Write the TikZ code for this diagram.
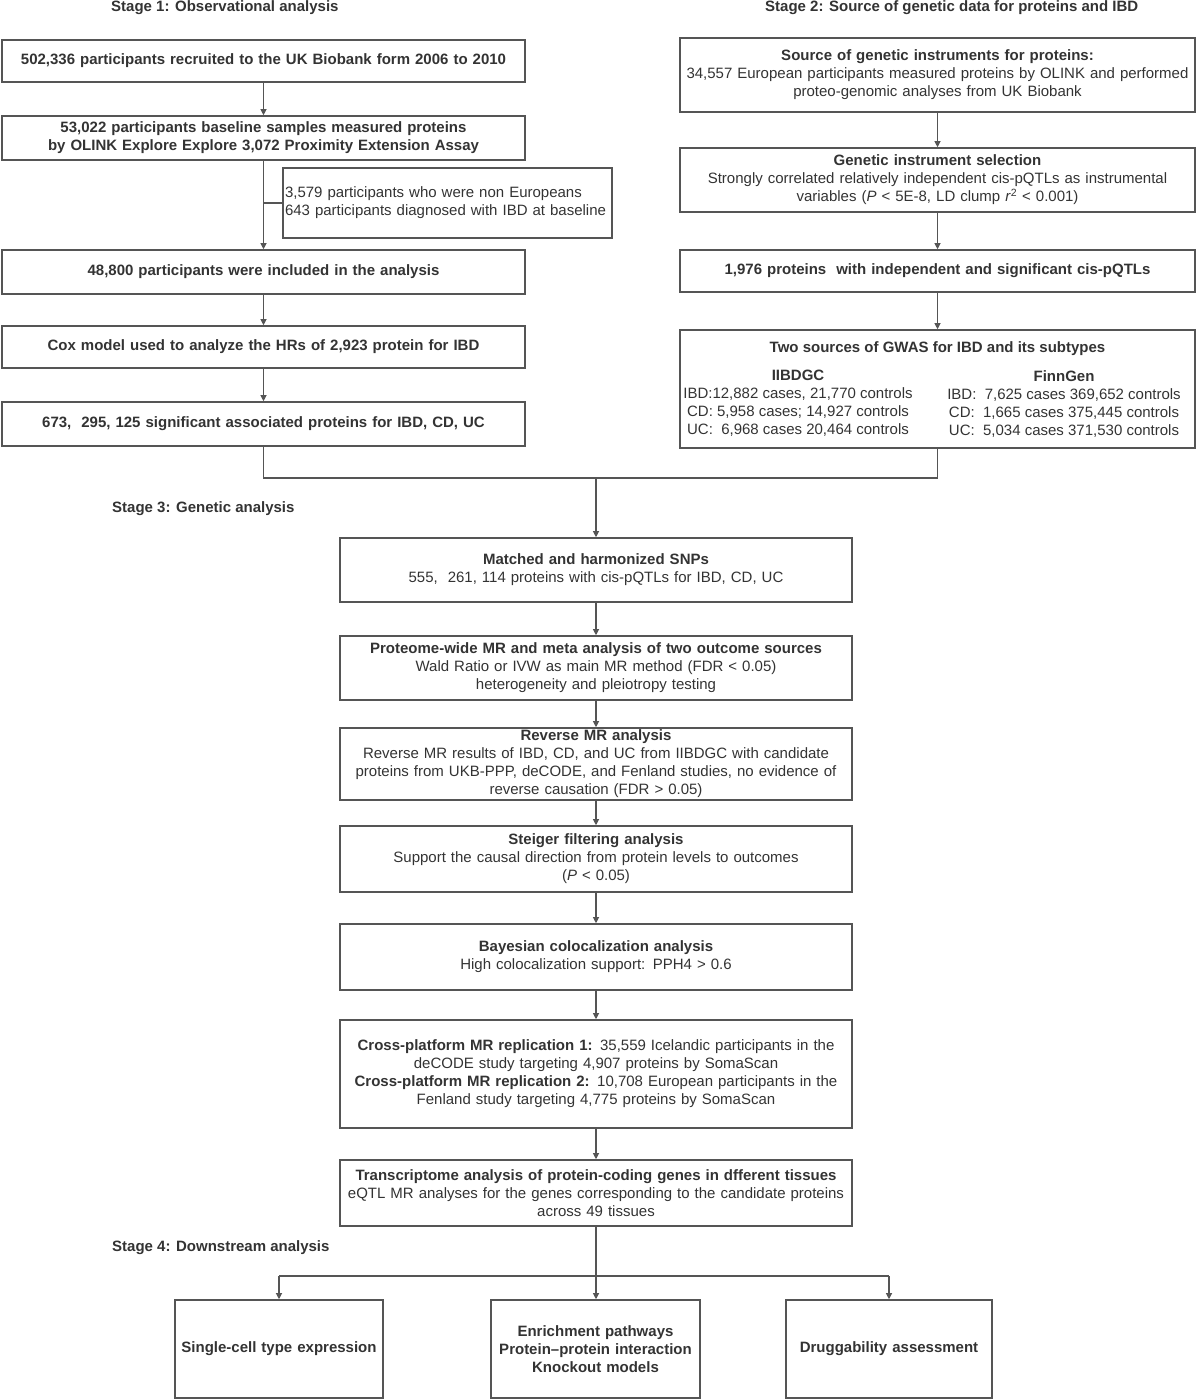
\documentclass[tikz,border=0pt]{standalone}
\usepackage{fontspec}
\setmainfont{Liberation Sans}
\usetikzlibrary{arrows.meta}
\definecolor{lc}{HTML}{555555}
\definecolor{tc}{HTML}{333333}
\tikzset{
  box/.style={draw=lc, line width=1.6pt, rectangle, inner sep=1pt, align=center, text=tc,
              font=\fontsize{15}{18}\selectfont},
  conn/.style={draw=lc, line width=1.1pt},
  arr/.style={conn, -{Triangle[length=6pt,width=6pt]}},
  stage/.style={font=\fontsize{15}{16}\selectfont\bfseries, text=tc, anchor=west, inner sep=0pt},
  plain/.style={font=\fontsize{15}{18}\selectfont, text=tc, align=center, inner sep=0pt},
}
\newcommand{\bx}[6]{% name, x1, y1, x2, y2, text
  \node[box, minimum width={#4-#2}, minimum height={#5-#3}, text width={#4-#2-4}] (#1) at ({(#2+#4)/2},{(#3+#5)/2}) {#6};}
\begin{document}
\begin{tikzpicture}[x=1pt,y=-1pt]
\useasboundingbox (0,0) rectangle (1200,1399);
% stage labels
\node[stage] (s1) at (111,8) {Stage 1: Observational analysis};
\node[stage] (s2) at (765,8) {Stage 2: Source of genetic data for proteins and IBD};
\node[stage] (s3) at (112,509) {Stage 3: Genetic analysis};
\node[stage] (s4) at (112,1248) {Stage 4: Downstream analysis};
% left column
\bx{b1}{2}{40}{525}{82}{\textbf{502,336 participants recruited to the UK Biobank form 2006 to 2010}}
\bx{b2}{2}{116}{525}{160}{\textbf{53,022 participants baseline samples measured proteins}\\\textbf{by OLINK Explore Explore 3,072 Proximity Extension Assay}}
\node[box, minimum width=329pt, minimum height=70pt, align=left, text width=325pt, inner sep=1pt] (ex) at (447.5,203) {3,579 participants who were non Europeans\\643 participants diagnosed with IBD at baseline};
\bx{b3}{2}{250}{525}{294}{\textbf{48,800 participants were included in the analysis}}
\bx{b4}{2}{326}{525}{368}{\textbf{Cox model used to analyze the HRs of 2,923 protein for IBD}}
\bx{b5}{2}{402}{525}{446}{\textbf{673,\ \ 295, 125 significant associated proteins for IBD, CD, UC}}
% right column
\bx{r1}{680}{38}{1195}{112}{\textbf{Source of genetic instruments for proteins:}\\34,557 European participants measured proteins by OLINK and performed\\proteo-genomic analyses from UK Biobank}
\bx{r2}{680}{148}{1195}{212}{\textbf{Genetic instrument selection}\\Strongly correlated relatively independent cis-pQTLs as instrumental\\variables (\textit{P} < 5E-8, LD clump \textit{r}\textsuperscript{2} < 0.001)}
\bx{r3}{680}{250}{1195}{292}{\textbf{1,976 proteins\ \ with independent and significant cis-pQTLs}}
\bx{r4}{680}{330}{1195}{448}{}
\node[plain, font=\fontsize{15}{18}\selectfont\bfseries] (r4t) at (937.5,349) {Two sources of GWAS for IBD and its subtypes};
\node[plain, anchor=north] (r4a) at (798,370) {\textbf{IIBDGC}\\IBD:12,882 cases, 21,770 controls\\CD: 5,958 cases; 14,927 controls\\UC:\ \ 6,968 cases 20,464 controls};
\node[plain, anchor=north] (r4b) at (1064,370) {\textbf{FinnGen}\\IBD:\ \ 7,625 cases 369,652 controls\\CD:\ \ 1,665 cases 375,445 controls\\UC:\ \ 5,034 cases 371,530 controls};
% centre column
\bx{c1}{340}{538}{852}{602}{\textbf{Matched and harmonized SNPs}\\555,\ \ 261, 114 proteins with cis-pQTLs for IBD, CD, UC}
\bx{c2}{340}{636}{852}{700}{\textbf{Proteome-wide MR and meta analysis of two outcome sources}\\Wald Ratio or IVW as main MR method (FDR < 0.05)\\heterogeneity and pleiotropy testing}
\bx{c3}{340}{728}{852}{800}{\textbf{Reverse MR analysis}\\Reverse MR results of IBD, CD, and UC from IIBDGC with candidate\\proteins from UKB-PPP, deCODE, and Fenland studies, no evidence of\\reverse causation (FDR > 0.05)}
\bx{c4}{340}{826}{852}{892}{\textbf{Steiger filtering analysis}\\Support the causal direction from protein levels to outcomes\\(\textit{P} < 0.05)}
\bx{c5}{340}{924}{852}{990}{\textbf{Bayesian colocalization analysis}\\High colocalization support: PPH4 > 0.6}
\bx{c6}{340}{1020}{852}{1128}{\textbf{Cross-platform MR replication 1:} 35,559 Icelandic participants in the\\deCODE study targeting 4,907 proteins by SomaScan\\\textbf{Cross-platform MR replication 2:} 10,708 European participants in the\\Fenland study targeting 4,775 proteins by SomaScan}
\bx{c7}{340}{1160}{852}{1226}{\textbf{Transcriptome analysis of protein-coding genes in dfferent tissues}\\eQTL MR analyses for the genes corresponding to the candidate proteins\\across 49 tissues}
% bottom
\bx{d1}{175}{1300}{383}{1398}{\textbf{Single-cell type expression}}
\bx{d2}{491}{1300}{700}{1398}{\textbf{Enrichment pathways}\\\textbf{Protein–protein interaction}\\\textbf{Knockout models}}
\bx{d3}{786}{1300}{992}{1398}{\textbf{Druggability assessment}}
% connectors
\draw[arr] (b1) -- (b2);
\draw[arr] (b2) -- (b3);
\draw[conn] (b2.south |- ex.west) -- (ex.west);
\draw[arr] (b3) -- (b4);
\draw[arr] (b4) -- (b5);
\draw[arr] (r1) -- (r2);
\draw[arr] (r2) -- (r3);
\draw[arr] (r3) -- (r4);
\coordinate (j) at (596,478);
\draw[conn] (b5.south) |- (j);
\draw[conn] (r4.south) |- (j);
\draw[arr] (j) -- (c1.north);
\draw[arr] (c1) -- (c2);
\draw[arr] (c2) -- (c3);
\draw[arr] (c3) -- (c4);
\draw[arr] (c4) -- (c5);
\draw[arr] (c5) -- (c6);
\draw[arr] (c6) -- (c7);
\draw[arr] (c7.south) -- (c7.south |- d2.north);
\coordinate (kl) at (279,1276);
\coordinate (kr) at (889,1276);
\draw[conn] (kl) -- (kr);
\draw[arr] (kl) -- (kl |- d1.north);
\draw[arr] (kr) -- (kr |- d3.north);
\end{tikzpicture}
\end{document}
